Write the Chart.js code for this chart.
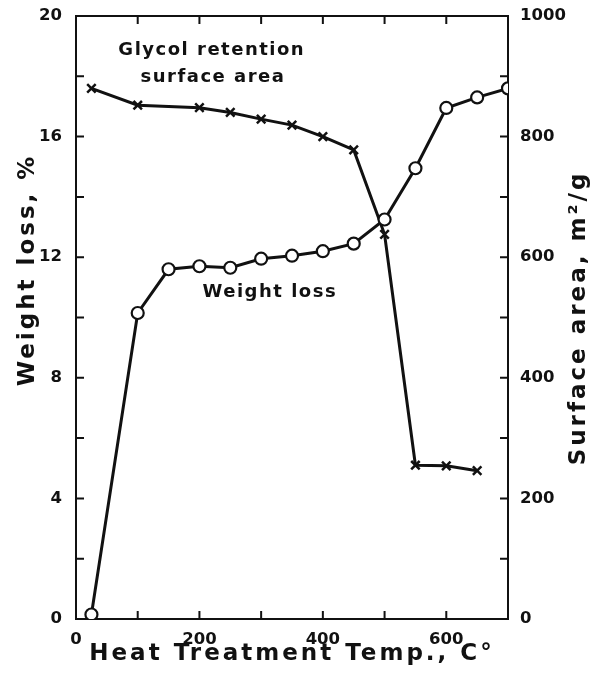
<!DOCTYPE html>
<html>
<head>
<meta charset="utf-8">
<script src="https://cdn.jsdelivr.net/npm/chart.js@4"></script>
<style>
  html, body { margin: 0; padding: 0; background: #fff; }
</style>
</head>
<body>
<canvas id="myChart" width="596" height="674"></canvas>
<script>
// heat treatment temperature, C
const tempWeight = [25, 100, 150, 200, 250, 300, 350, 400, 450, 500, 550, 600, 650, 700];
// weight loss, %
const weightLoss = [0.15, 10.15, 11.6, 11.7, 11.65, 11.95, 12.05, 12.2, 12.45, 13.25, 14.95, 16.95, 17.3, 17.6];

const tempSurface = [25, 100, 200, 250, 300, 350, 400, 450, 500, 550, 600, 650];
// glycol retention surface area, m2/g
const surfaceArea = [880, 852, 848, 840, 829, 819, 800, 778, 638, 255, 254, 246];

// labelled ticks
const xTickLabels = [0, 200, 400, 600];
const leftTickLabels = [0, 4, 8, 12, 16, 20];
const rightTickLabels = [0, 200, 400, 600, 800, 1000];

// tick marks (no labels)
const xMinorTicks = [100, 200, 300, 400, 500, 600];
const leftMinorTicks = [2, 4, 6, 8, 10, 12, 14, 16, 18];
const rightMinorTicks = [100, 200, 300, 400, 500, 600, 700, 800, 900];

const ink = '#111';
const labelFont = { family: 'DejaVu Sans', weight: 'bold', size: 16.5 };

const toPoints = (xs, ys) => xs.map((x, i) => ({ x: x, y: ys[i] }));
const useTicks = list => scale => { scale.ticks = list.map(v => ({ value: v })); };

const framePlugin = {
  id: 'frame',
  beforeDatasetsDraw(chart) {
    const c = chart.ctx;
    const a = chart.chartArea;
    const x = chart.scales.x;
    const yl = chart.scales.yW;
    const yr = chart.scales.ySA;
    c.save();
    c.strokeStyle = ink;
    c.lineWidth = 2;
    c.strokeRect(a.left, a.top, a.right - a.left, a.bottom - a.top);
    c.beginPath();
    xMinorTicks.forEach(v => {
      const px = x.getPixelForValue(v);
      c.moveTo(px, a.bottom); c.lineTo(px, a.bottom - 8);
      c.moveTo(px, a.top); c.lineTo(px, a.top + 8);
    });
    leftMinorTicks.forEach(v => {
      const py = yl.getPixelForValue(v);
      c.moveTo(a.left, py); c.lineTo(a.left + 8, py);
    });
    rightMinorTicks.forEach(v => {
      const py = yr.getPixelForValue(v);
      c.moveTo(a.right, py); c.lineTo(a.right - 8, py);
    });
    c.stroke();
    c.restore();
  },
  afterDraw(chart) {
    const c = chart.ctx;
    const x = chart.scales.x;
    const yl = chart.scales.yW;
    c.save();
    c.fillStyle = ink;
    c.textAlign = 'center';
    c.textBaseline = 'middle';

    // labels inside the plot
    c.font = 'bold 18px "DejaVu Sans"';
    c.letterSpacing = '1.5px';
    c.fillText('Glycol retention', x.getPixelForValue(220), yl.getPixelForValue(18.87));
    c.fillText('surface area', x.getPixelForValue(222), yl.getPixelForValue(17.98));
    c.fillText('Weight loss', x.getPixelForValue(314), yl.getPixelForValue(10.85));

    // axis titles
    c.font = 'bold 23px "DejaVu Sans"';
    c.letterSpacing = '3px';
    c.fillText('Heat Treatment Temp., C°', 292, 654);

    c.save();
    c.translate(28, 270);
    c.rotate(-Math.PI / 2);
    c.fillText('Weight loss, %', 0, 0);
    c.restore();

    c.save();
    c.translate(579, 318);
    c.rotate(-Math.PI / 2);
    c.fillText('Surface area, m²/g', 0, 0);
    c.restore();

    c.letterSpacing = '0px';
    c.restore();
  }
};

new Chart(document.getElementById('myChart'), {
  type: 'line',
  data: {
    datasets: [
      {
        label: 'Weight loss',
        data: toPoints(tempWeight, weightLoss),
        yAxisID: 'yW',
        borderColor: ink,
        borderWidth: 3,
        pointStyle: 'circle',
        pointRadius: 6,
        pointBorderWidth: 2.2,
        pointBackgroundColor: '#fff',
        pointBorderColor: ink,
        tension: 0
      },
      {
        label: 'Glycol retention surface area',
        data: toPoints(tempSurface, surfaceArea),
        yAxisID: 'ySA',
        borderColor: ink,
        borderWidth: 3,
        pointStyle: 'crossRot',
        pointRadius: 6,
        pointBorderWidth: 2.5,
        pointBorderColor: ink,
        tension: 0
      }
    ]
  },
  options: {
    responsive: false,
    animation: false,
    layout: { padding: { top: 16, left: 0, right: 0, bottom: 0 } },
    plugins: {
      legend: { display: false },
      tooltip: { enabled: false }
    },
    scales: {
      x: {
        type: 'linear',
        min: 0,
        max: 700,
        grid: { display: false },
        border: { display: false },
        afterBuildTicks: useTicks(xTickLabels),
        ticks: { color: ink, font: labelFont, padding: 3, callback: v => String(v) },
        afterFit(scale) { scale.height = 55; }
      },
      yW: {
        type: 'linear',
        position: 'left',
        min: 0,
        max: 20,
        grid: { display: false },
        border: { display: false },
        afterBuildTicks: useTicks(leftTickLabels),
        ticks: { color: ink, font: labelFont, padding: 6, callback: v => String(v) },
        afterFit(scale) { scale.width = 76; }
      },
      ySA: {
        type: 'linear',
        position: 'right',
        min: 0,
        max: 1000,
        grid: { display: false },
        border: { display: false },
        afterBuildTicks: useTicks(rightTickLabels),
        ticks: { color: ink, font: labelFont, padding: 4, callback: v => String(v) },
        afterFit(scale) { scale.width = 88; }
      }
    }
  },
  plugins: [framePlugin]
});
</script>
</body>
</html>
